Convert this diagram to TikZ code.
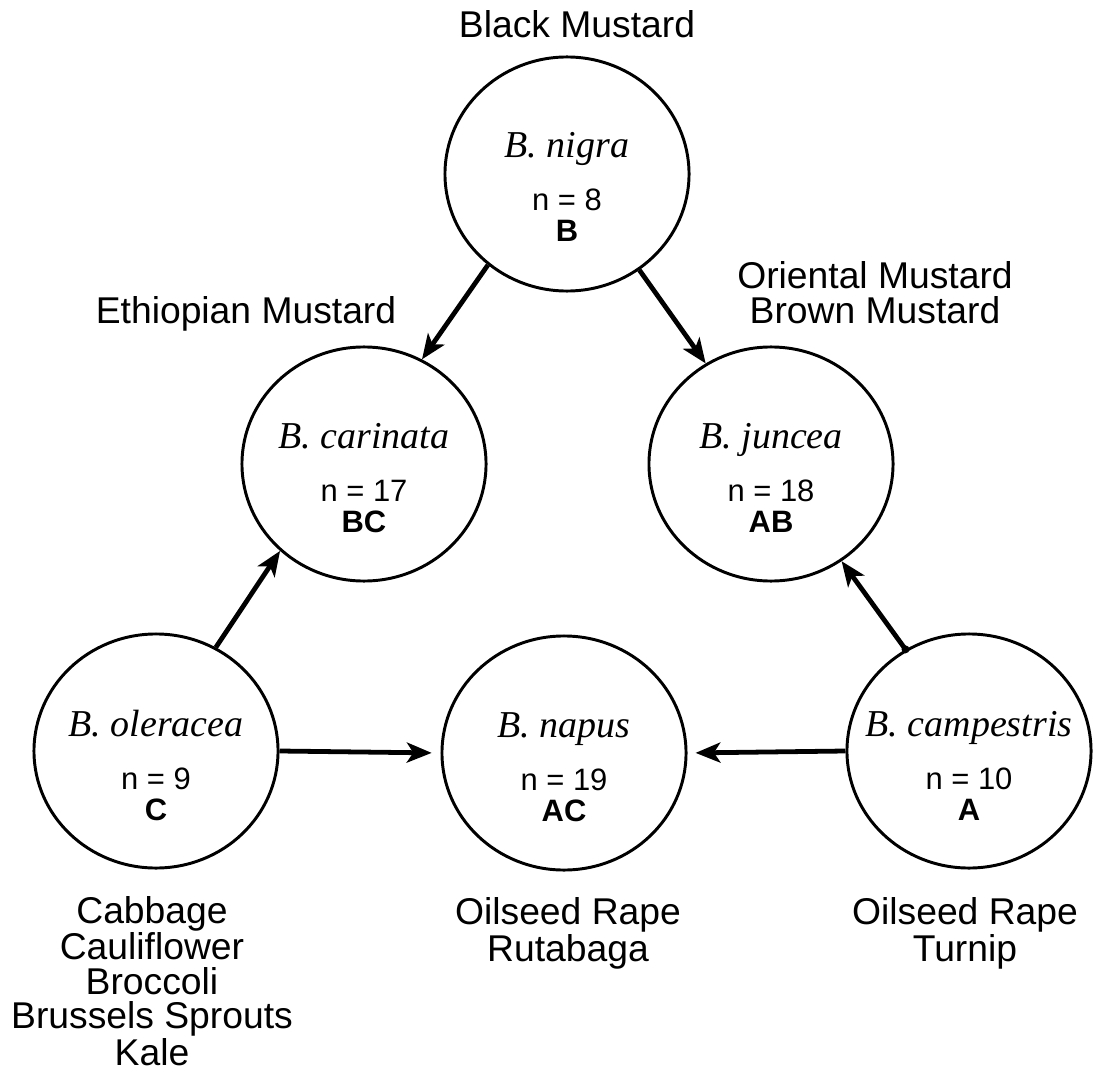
\documentclass[tikz,border=0pt]{standalone}
\usepackage{fontspec}
\setmainfont{Liberation Sans}
\newfontfamily\spfont{Liberation Serif}
\usetikzlibrary{arrows.meta,shapes.geometric}

\begin{document}
\begin{tikzpicture}[x=0.025cm,y=-0.025cm,
    species/.style={draw,ellipse,line width=2.1pt,minimum width=6.1cm,minimum height=5.85cm,inner sep=0pt},
    sciname/.style={anchor=base,font=\spfont\itshape\fontsize{27}{27}\selectfont},
    count/.style={anchor=base,font=\fontsize{22}{22}\selectfont},
    genome/.style={anchor=base,font=\bfseries\fontsize{22}{22}\selectfont},
    common/.style={anchor=base,align=center,font=\fontsize{26.5}{24.5}\selectfont},
    cross/.style={line width=3.4pt,-{Stealth[length=0.62cm,width=0.5cm,inset=0.16cm]}}]
			\useasboundingbox (0,0) rectangle (1098,1083);

			% B. nigra
			\node[species] (nigra) at (567,174) {};
			\node[sciname] (nigra-name) at (567,158) {B. nigra};
			\node[count] (nigra-n) at (567,211) {n = 8};
			\node[genome] (nigra-g) at (567,242) {B};

			% B. carinata
			\node[species] (carinata) at (364,464) {};
			\node[sciname] (carinata-name) at (364,448) {B. carinata};
			\node[count] (carinata-n) at (364,501) {n = 17};
			\node[genome] (carinata-g) at (364,532) {BC};

			% B. juncea
			\node[species] (juncea) at (771,464) {};
			\node[sciname] (juncea-name) at (771,448) {B. juncea};
			\node[count] (juncea-n) at (771,501) {n = 18};
			\node[genome] (juncea-g) at (771,532) {AB};

			% B. oleracea
			\node[species] (oleracea) at (156,751) {};
			\node[sciname] (oleracea-name) at (156,736) {B. oleracea};
			\node[count] (oleracea-n) at (156,789) {n = 9};
			\node[genome] (oleracea-g) at (156,820) {C};

			% B. napus
			\node[species] (napus) at (564,753) {};
			\node[sciname] (napus-name) at (564,737) {B. napus};
			\node[count] (napus-n) at (564,790) {n = 19};
			\node[genome] (napus-g) at (564,821) {AC};

			% B. campestris
			\node[species] (campestris) at (969,751) {};
			\node[sciname] (campestris-name) at (969,736) {B. campestris};
			\node[count] (campestris-n) at (969,789) {n = 10};
			\node[genome] (campestris-g) at (969,820) {A};

			% common names (base = last line)
			\node[common] (black) at (577,38) {Black Mustard};
			\node[common] (ethiopian) at (246,323) {Ethiopian Mustard};
			\node[common] (oriental) at (875,323) {Oriental Mustard\\Brown Mustard};
			\node[common] (cabbage) at (152,1065) {Cabbage\\Cauliflower\\Broccoli\\Brussels Sprouts\\Kale};
			\node[common] (rutabaga) at (568,961) {Oilseed Rape\\Rutabaga};
			\node[common] (turnip) at (965,961) {Oilseed Rape\\Turnip};

			% crosses
			\draw[cross] (nigra.229) -- (carinata.61);
			\draw[cross] (nigra.307) -- (juncea.123);
			\draw[cross] (oleracea.60) -- (carinata.226);
			\draw[cross] (campestris.122) -- (juncea.306);
			\fill (campestris.122) circle (4);
			\draw[cross,shorten >=0.22cm] (oleracea.east) -- (napus.west);
			\draw[cross,shorten >=0.2cm] (campestris.west) -- (napus.east);
		\end{tikzpicture}
\end{document}
